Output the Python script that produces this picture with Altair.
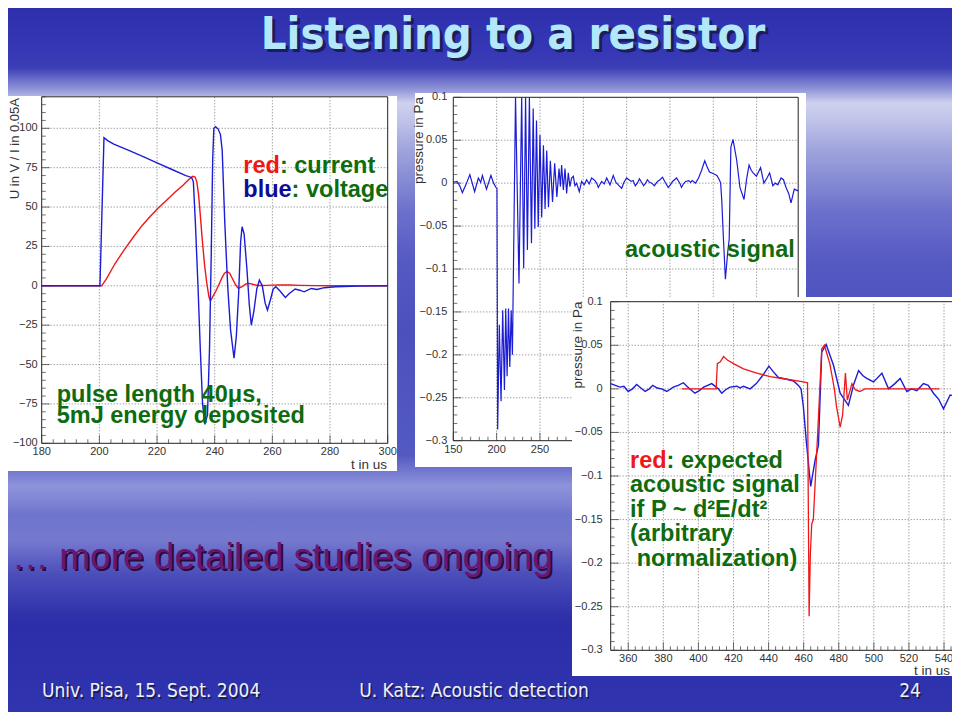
import altair as alt
import pandas as pd

W, H = 944, 704
OFF = 8  # page margin: svg coordinate = slide coordinate - 8

# ---------------- data ----------------
# Panel A: resistor pulse, t in us -> U in V (blue) and I in 0.05 A (red)
VOLTAGE = [(180, 0), (200.2, 0), (201.6, 94), (203.0, 92), (205.0, 90), (210.0, 86.2), (215.0, 82.2),
           (220.0, 78.1), (225.0, 74), (230.0, 70), (232.0, 68.8), (232.6, 66), (233.3, 40), (234.2, 0),
           (235.0, -40), (235.8, -75), (236.6, -88), (237.5, -82), (238.2, -40), (238.8, 20), (239.3, 80),
           (239.7, 100), (240.3, 101), (241.2, 99.5), (242.0, 96), (242.6, 86), (243.5, 40), (244.5, 0),
           (245.5, -28), (246.7, -46), (247.5, -32), (248.3, -5), (249.0, 28), (249.5, 37.5), (250.2, 33),
           (251.2, 10), (252.0, -12), (252.7, -25), (253.6, -16), (254.6, -2), (255.5, 3.6), (256.5, 0),
           (257.5, -11), (258.3, -15.4), (259.3, -9), (260.3, -2), (261.2, -0.6), (262.5, -3), (264.5, -7.4),
           (265.8, -5), (267.9, -2), (269.5, -2.8), (271.0, -3.8), (273.5, -1.7), (275.5, -2.3), (278.0, -1.2),
           (282.0, -0.6), (290.0, -0.2), (300.0, 0)]
CURRENT = [(180, 0), (200.8, 0), (202.5, 4.5), (205.4, 14), (208.5, 22.5), (211.8, 31), (214.7, 38),
           (217.6, 44), (220.5, 49.5), (223.4, 54.5), (226.3, 59.5), (229.1, 64), (231.0, 67.5), (232.4, 69.5),
           (233.2, 69), (233.8, 66), (234.4, 58), (235.0, 45), (235.7, 29), (236.5, 13), (237.3, 1),
           (238.0, -7), (238.5, -9.6), (239.3, -7), (240.5, -3), (241.5, 1), (242.5, 5), (243.4, 8),
           (244.3, 9), (245.2, 8), (246.3, 4), (247.3, 0.5), (248.2, -1.7), (249.5, -0.5), (250.8, 1.2),
           (252.0, 1.5), (253.5, 0.8), (255.0, 0.2), (258.0, 0.3), (262.0, 0.6), (266.0, 0.5), (270.0, 0.3),
           (275.0, 0.1), (280.0, 0), (300.0, 0)]

# Panels B and C: measured acoustic signal, t in us -> pressure in Pa
PRESSURE = [(150, 0.001), (154.3, 0.002), (157.4, -0.003), (160.5, -0.011), (164.5, -0.002), (169.1, 0.010),
            (174.6, -0.010), (178.9, 0.006), (181.6, 0.001), (183.6, 0.009), (188.3, -0.007), (193.4, 0.009),
            (196.5, 0.0), (199.2, -0.005), (200.4, -0.006),
            (201.2, -0.287), (203.1, -0.165), (205.1, -0.254), (207.0, -0.148), (209.0, -0.241), (210.5, -0.146),
            (212.1, -0.225), (213.7, -0.146), (215.2, -0.214), (216.8, -0.148), (218.2, -0.2), (221.8, 0.1),
            (225.8, -0.117), (228.9, 0.1), (231.2, -0.099), (233.4, 0.1), (235.5, -0.078), (237.8, 0.1),
            (240.2, -0.07), (242.2, 0.087), (244.1, -0.053), (246.0, 0.073), (248.0, -0.051), (250.0, 0.056),
            (252.0, -0.04), (254.0, 0.044), (255.9, -0.03), (257.8, 0.038), (259.8, -0.028), (262.0, 0.026),
            (264.5, -0.022), (267.0, 0.023), (269.5, -0.016), (272.0, 0.017), (273.6, -0.004), (275.0, 0.021),
            (277.0, -0.008), (278.9, 0.017), (280.8, -0.012), (282.7, 0.012), (284.6, -0.004), (286.5, 0.006),
            (288.5, 0.008), (290.4, -0.003), (292.3, 0.0), (295.4, -0.01), (298.1, 0.002), (301.0, -0.002),
            (303.9, 0.004), (306.8, -0.001), (309.6, 0.006), (313.5, 0.003), (315.4, 0.0), (317.3, -0.005),
            (321.2, 0.002), (324.1, -0.001), (327.0, 0.006), (330.8, -0.002), (334.6, 0.009), (337.5, 0.001),
            (340.4, -0.002), (344.3, -0.006), (347.0, 0.001), (350.0, 0.006), (352.6, 0.004), (355.3, 0.002),
            (357.5, 0.003), (360.0, -0.003), (362.4, 0.0), (364.8, 0.005), (367.2, 0.001), (369.6, -0.003),
            (372.0, 0.0), (374.0, 0.004), (376.5, 0.001), (379.0, 0.0), (382.0, -0.003), (385.7, 0.002),
            (388.5, 0.004), (391.4, 0.007), (394.5, 0.001), (398.0, -0.005), (400.5, -0.002), (403.0, 0.002),
            (407.6, 0.006), (411.4, 0.0), (413.3, -0.005), (415.5, -0.001), (418.0, 0.002), (421.9, 0.003),
            (423.8, 0.001), (425.7, 0.003), (429.5, 0.0), (433.0, 0.006), (436.5, 0.015), (440.2, 0.026),
            (442.5, 0.02), (445.6, 0.013), (450.4, 0.011), (454.2, 0.009), (457.0, 0.004), (458.5, 0.0),
            (459.8, -0.02), (461.5, -0.06), (464.0, -0.112), (466.5, -0.082), (468.4, -0.065), (470.3, 0.042),
            (472.8, 0.051), (477.0, 0.027), (480.8, -0.005), (485.5, -0.019), (488.5, 0.005), (491.3, 0.021),
            (493.8, 0.015), (496.0, 0.012), (499.8, 0.008), (504.6, 0.018), (508.4, 0.0), (512.0, 0.006),
            (515.0, 0.012), (518.8, -0.003), (521.5, 0.0), (524.5, -0.002), (528.3, 0.006), (531.0, 0.004),
            (534.0, -0.005), (537.0, -0.012), (539.7, -0.023), (543.5, -0.007), (548.0, -0.009)]
# Panel C: expected signal if P ~ d2E/dt2 (arbitrary normalization)
EXPECTED = [(390.5, 0), (410.1, 0), (410.8, 0.029), (412.5, 0.031), (414.3, 0.037), (416.5, 0.033),
            (420.0, 0.029), (425.7, 0.023), (433.3, 0.018), (440.9, 0.014), (450.4, 0.011), (459.9, 0.008),
            (462.2, 0.007), (462.6, -0.12), (463.1, -0.261), (463.8, -0.19), (464.6, -0.155), (465.5, -0.15),
            (468.0, -0.05), (470.3, 0.046), (471.8, 0.05), (474.9, 0.029), (477.5, 0.0), (478.7, -0.02),
            (480.8, -0.044), (482.2, -0.03), (483.8, 0.018), (484.9, -0.013), (487.5, 0.006), (489.4, -0.001),
            (492.0, -0.003), (495.0, 0.0), (537.5, 0)]

# tick values (labelled) and grid lines
A_X_TICKS = [180, 200, 220, 240, 260, 280, 300]
A_Y_TICKS = [-100, -75, -50, -25, 0, 25, 50, 75, 100]
B_X_TICKS = [150, 200, 250, 300, 350, 400, 450, 500]
P_Y_TICKS = [-0.3, -0.25, -0.2, -0.15, -0.1, -0.05, 0, 0.05, 0.1]
C_X_TICKS = [360, 380, 400, 420, 440, 460, 480, 500, 520, 540]

# ---------------- style / layout ----------------
SANS = "Liberation Sans, Arial, Helvetica, sans-serif"
NARROW = "Liberation Sans Narrow, Arial Narrow, DejaVu Sans Condensed, Liberation Sans, sans-serif"
GREEN = "#0e6b0e"
RED = "#ee1818"
DKBLUE = "#0c0c98"
LINEBLUE = "#1c1cd6"
GRID = "#6d6d6d"
TICK = "#333333"
LBL = "#333333"

# slide coordinates (px) of each embedded ROOT canvas
PANELS = {
    "A": dict(xdom=[180, 300], ydom=[-100, 120], px=[41.7, 387.7], py=[443.3, 96.8], box=[0, 397, 96, 471]),
    "B": dict(xdom=[150, 548], ydom=[-0.3, 0.1], px=[453.3, 798.2], py=[440.7, 97.3], box=[415, 806, 93, 467]),
    "C": dict(xdom=[350, 549], ydom=[-0.3, 0.1], px=[610.7, 959.8], py=[650.3, 301.7], box=[572, 960, 297, 676]),
}
ONE = pd.DataFrame({"k": [0]})


def sx(p):
    return alt.Scale(domain=p["xdom"], range=[v - OFF for v in p["px"]], nice=False, zero=False)


def sy(p):
    return alt.Scale(domain=p["ydom"], range=[v - OFF for v in p["py"]], nice=False, zero=False)


def X(p, f):
    return alt.X(f, type="quantitative", scale=sx(p), axis=None)


def Y(p, f):
    return alt.Y(f, type="quantitative", scale=sy(p), axis=None)


def XD(p, v):
    return alt.XDatum(v, type="quantitative", scale=sx(p), axis=None)


def YD(p, v):
    return alt.YDatum(v, type="quantitative", scale=sy(p), axis=None)


def fmt(v):
    return ("%g" % v).replace("-", "\u2212")


def txt(s, x, y, color, size, weight="bold", align="left", font=SANS, angle=0, baseline="alphabetic"):
    return alt.Chart(ONE).mark_text(text=s, align=align, baseline=baseline, font=font, fontSize=size,
                                    fontWeight=weight, color=color, angle=angle).encode(
        x=alt.value(x - OFF), y=alt.value(y - OFF))


def shadow_txt(s, x, y, color, shade, size, d, font, weight="bold", align="left"):
    return [txt(s, x + d, y + d, shade, size, weight, align, font),
            txt(s, x, y, color, size, weight, align, font)]


def panel(p, xt, yt, xminor, yminor, xgrid, ygrid, xlabels, ydx, xdy):
    x0, x1 = p["xdom"]
    y0, y1 = p["ydom"]
    b = p["box"]
    L = []
    L.append(alt.Chart(ONE).mark_rect(fill="white").encode(
        x=alt.value(b[0] - OFF), x2=alt.value(b[1] - OFF), y=alt.value(b[2] - OFF), y2=alt.value(b[3] - OFF)))
    L.append(alt.Chart(pd.DataFrame({"g": xgrid})).mark_rule(color=GRID, strokeDash=[1, 2], strokeWidth=0.9)
             .encode(x=X(p, "g"), y=YD(p, y0), y2=alt.Y2Datum(y1)))
    L.append(alt.Chart(pd.DataFrame({"g": ygrid})).mark_rule(color=GRID, strokeDash=[1, 2], strokeWidth=0.9)
             .encode(y=Y(p, "g"), x=XD(p, x0), x2=alt.X2Datum(x1)))
    L.append(alt.Chart(ONE).mark_rect(fillOpacity=0, stroke="#222222", strokeWidth=1)
             .encode(x=XD(p, x0), x2=alt.X2Datum(x1), y=YD(p, y0), y2=alt.Y2Datum(y1)))
    for vals, size in ((xt, 8), (xminor, 4)):
        L.append(alt.Chart(pd.DataFrame({"v": vals})).mark_tick(orient="vertical", size=size, thickness=1,
                                                                 color=TICK, yOffset=-size / 2)
                 .encode(x=X(p, "v"), y=YD(p, y0)))
    for vals, size in ((yt, 8), (yminor, 4)):
        L.append(alt.Chart(pd.DataFrame({"v": vals})).mark_tick(orient="horizontal", size=size, thickness=1,
                                                                 color=TICK, xOffset=size / 2)
                 .encode(y=Y(p, "v"), x=XD(p, x0)))
    L.append(alt.Chart(pd.DataFrame({"v": xlabels, "s": [fmt(v) for v in xlabels]}))
             .mark_text(align="center", baseline="top", dy=xdy, font=SANS, fontSize=11, color=LBL)
             .encode(x=X(p, "v"), y=YD(p, y0), text="s:N"))
    L.append(alt.Chart(pd.DataFrame({"v": yt, "s": [fmt(v) for v in yt]}))
             .mark_text(align="right", baseline="middle", dx=-ydx, font=SANS, fontSize=11, color=LBL)
             .encode(y=Y(p, "v"), x=XD(p, x0), text="s:N"))
    return L


def curve(p, pts, color, width, tmin=None):
    df = pd.DataFrame(pts, columns=["t", "v"])
    if tmin is not None:
        df = df[df["t"] >= tmin]
    return alt.Chart(df).mark_line(color=color, strokeWidth=width).encode(x=X(p, "t"), y=Y(p, "v"))


def band(y0, y1, stops, x0=0, x1=960):
    """soft horizontal band: vertical gradient fading to transparent at both ends"""
    grad = alt.LinearGradient(gradient="linear", x1=0, x2=0, y1=0, y2=1,
                              stops=[alt.GradientStop(offset=o, color=c) for o, c in stops])
    return alt.Chart(ONE).mark_rect(fill=grad).encode(
        x=alt.value(x0 - OFF), x2=alt.value(x1 - OFF), y=alt.value(y0 - OFF), y2=alt.value(y1 - OFF))


layers = []

# ---------- slide background ----------
bg_stops = [(0.00, "#2d2fad"), (0.06, "#3537b4"), (0.085, "#3c3eb6"), (0.115, "#8f94d8"), (0.135, "#cfd1ee"),
            (0.16, "#c0c3e9"), (0.20, "#a0a5dd"), (0.25, "#8388d2"), (0.29, "#6c70cc"), (0.36, "#5559c2"),
            (0.46, "#4c50bd"), (0.60, "#5258c1"), (0.70, "#565cc3"), (0.78, "#3d40b5"), (0.86, "#2b2da8"),
            (1.00, "#3034ae")]
layers.append(alt.Chart(ONE).mark_rect(
    fill=alt.LinearGradient(gradient="linear", x1=0, x2=0, y1=0, y2=1,
                            stops=[alt.GradientStop(offset=o, color=c) for o, c in bg_stops]))
    .encode(x=alt.value(0), x2=alt.value(W), y=alt.value(0), y2=alt.value(H)))
# soft cloud streaks below the plots (right end hidden behind the third plot)
layers.append(band(455, 625, [(0, "rgba(220,224,250,0)"), (0.18, "rgba(220,224,250,0.42)"),
                              (0.35, "rgba(220,224,250,0.22)"), (0.5, "rgba(220,224,250,0.32)"),
                              (0.7, "rgba(220,224,250,0.12)"), (1, "rgba(220,224,250,0)")], 0, 620))

# ---------- title ----------
layers += shadow_txt("Listening to a resistor", 513, 48.5, "#b3e8fb", "#1c1c5a", 45, 3, NARROW, align="center")

# ---------- panel A ----------
pA = PANELS["A"]
layers += panel(pA, A_X_TICKS, A_Y_TICKS,
                [v for v in range(180, 301, 4) if v % 20 != 0],
                [v for v in range(-100, 121, 5) if v % 25 != 0],
                [200, 220, 240, 260, 280], [-75, -50, -25, 0, 25, 50, 75, 100],
                A_X_TICKS, 4, 3)
layers.append(curve(pA, CURRENT, RED, 1.4))
layers.append(curve(pA, VOLTAGE, LINEBLUE, 1.4))
layers.append(txt("U in V / I in 0.05A", 14.5, 98, "#333333", 13, "normal", "right", SANS, 270, "middle"))
layers.append(txt("t in us", 387, 469, "#333333", 13.5, "normal", "right"))
layers.append(txt("red", 243.3, 173.3, RED, 23.5))
layers.append(txt(": current", 279.9, 173.3, GREEN, 23.5))
layers.append(txt("blue", 243.3, 196.7, DKBLUE, 23.5))
layers.append(txt(": voltage", 291.6, 196.7, GREEN, 23.5))
layers.append(txt("pulse length 40\u03bcs,", 56.7, 401.7, GREEN, 23.5))
layers.append(txt("5mJ energy deposited", 56.7, 423.3, GREEN, 23.5))

# ---------- panel B ----------
pB = PANELS["B"]
layers += panel(pB, B_X_TICKS, P_Y_TICKS,
                [v for v in range(150, 548, 10) if v % 50 != 0],
                [round(-0.3 + 0.01 * i, 2) for i in range(41) if i % 5 != 0],
                [200, 250, 300, 350, 400, 450, 500], [-0.25, -0.2, -0.15, -0.1, -0.05, 0, 0.05],
                B_X_TICKS, 6, 3)
layers.append(curve(pB, PRESSURE, LINEBLUE, 1.2))
layers.append(txt("pressure in Pa", 418.5, 97, "#333333", 13.5, "normal", "right", SANS, 270, "middle"))
layers.append(txt("acoustic signal", 625, 256.7, GREEN, 23.5))

# ---------- panel C ----------
pC = PANELS["C"]
layers += panel(pC, C_X_TICKS, P_Y_TICKS,
                [v for v in range(352, 549, 4) if v % 20 != 0],
                [round(-0.3 + 0.01 * i, 2) for i in range(41) if i % 5 != 0],
                C_X_TICKS, [-0.25, -0.2, -0.15, -0.1, -0.05, 0, 0.05],
                C_X_TICKS, 8, 3)
layers.append(curve(pC, PRESSURE, LINEBLUE, 1.4, tmin=350))
layers.append(curve(pC, EXPECTED, RED, 1.3))
layers.append(txt("pressure in Pa", 577.5, 301.5, "#333333", 13.5, "normal", "right", SANS, 270, "middle"))
layers.append(txt("t in us", 950, 675, "#333333", 13.5, "normal", "right"))
layers.append(txt("red", 630, 467.7, RED, 23.5))
layers.append(txt(": expected", 666.6, 467.7, GREEN, 23.5))
layers.append(txt("acoustic signal", 630, 492.3, GREEN, 23.5))
layers.append(txt("if P ~ d\u00b2E/dt\u00b2", 630, 516.7, GREEN, 23.5))
layers.append(txt("(arbitrary", 630, 540.7, GREEN, 23.5))
layers.append(txt("normalization)", 636.7, 565.7, GREEN, 23.5))

# ---------- slide text ----------
layers += shadow_txt("\u2026 more detailed  studies ongoing", 12, 569, "#6a1670", "#2a0838", 37, 2, SANS,
                     weight="normal")
layers += shadow_txt("Univ. Pisa, 15. Sept. 2004", 42, 697, "#eef0fa", "#1a1a55", 19, 1.5, NARROW, weight="normal")
layers += shadow_txt("U. Katz: Acoustic detection", 474, 697, "#eef0fa", "#1a1a55", 19, 1.5, NARROW,
                     weight="normal", align="center")
layers += shadow_txt("24", 910, 697, "#eef0fa", "#1a1a55", 19, 1.5, NARROW, weight="normal", align="center")

chart = (alt.layer(*layers)
         .resolve_scale(x="independent", y="independent")
         .properties(width=W, height=H, padding=0, autosize="none", background="#3a3cb4")
         .configure_view(stroke="transparent"))

chart.save("out.html", embed_options={"renderer": "svg", "actions": False})
